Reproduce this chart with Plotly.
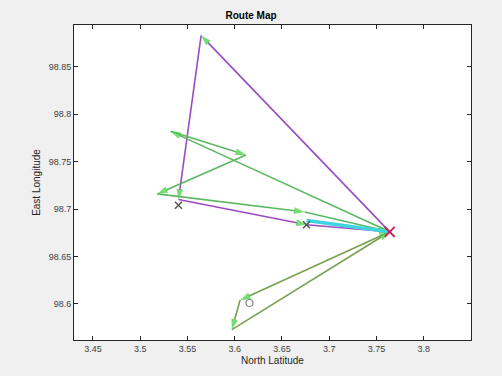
import plotly.graph_objects as go

# Depot and customer coordinates (North Latitude, East Longitude)
route1_lat = [3.764, 3.5645, 3.5405, 3.676, 3.764]
route1_lon = [98.676, 98.883, 98.710, 98.6835, 98.676]

route2_lat = [3.764, 3.532, 3.612, 3.518, 3.674, 3.764]
route2_lon = [98.676, 98.782, 98.757, 98.716, 98.697, 98.676]

route3_lat = [3.764, 3.6057, 3.597, 3.764]
route3_lon = [98.676, 98.604, 98.573, 98.676]

return_lat = [3.676, 3.764]
return_lon = [98.688, 98.676]

depot_lat = [3.764]
depot_lon = [98.676]

xtick_vals = [3.45, 3.5, 3.55, 3.6, 3.65, 3.7, 3.75, 3.8]
xtick_text = ["3.45", "3.5", "3.55", "3.6", "3.65", "3.7", "3.75", "3.8"]
ytick_vals = [98.6, 98.65, 98.7, 98.75, 98.8, 98.85]
ytick_text = ["98.6", "98.65", "98.7", "98.75", "98.8", "98.85"]

fig = go.Figure()


def add_route(lat, lon, color, width=1.6):
    sizes = [0] + [11] * (len(lat) - 1)
    fig.add_trace(go.Scatter(
        x=lat, y=lon, mode="lines+markers",
        line=dict(color=color, width=width),
        marker=dict(symbol="arrow", angleref="previous", size=sizes,
                    color="#3ccf3c", line=dict(width=0)),
        showlegend=False, hoverinfo="x+y",
    ))


add_route(route1_lat, route1_lon, "#9a4cc4")
add_route(route2_lat, route2_lon, "#5cb860")
add_route(route3_lat, route3_lon, "#78a050")
fig.add_trace(go.Scatter(
    x=return_lat, y=return_lon, mode="lines",
    line=dict(color="#3fd4e0", width=3.5),
    showlegend=False,
))

# customer marks on a few stops
fig.add_trace(go.Scatter(
    x=[route1_lat[2], route1_lat[3]], y=[route1_lon[2] - 0.006, route1_lon[3]],
    mode="markers",
    marker=dict(symbol="x-thin-open", size=7, color="#555555", line=dict(width=1.5)),
    showlegend=False,
))
fig.add_trace(go.Scatter(
    x=[route3_lat[1] + 0.01], y=[route3_lon[1] - 0.003], mode="markers",
    marker=dict(symbol="circle-open", size=7, color="#8a8a8a", line=dict(width=1.2)),
    showlegend=False,
))
fig.add_trace(go.Scatter(
    x=depot_lat, y=depot_lon, mode="markers",
    marker=dict(symbol="x-thin-open", size=10, color="#c8205a", line=dict(width=2)),
    showlegend=False,
))

axis_common = dict(
    showline=True, linecolor="#262626", linewidth=1, mirror="ticks",
    ticks="inside", ticklen=4, tickcolor="#262626",
    showgrid=False, zeroline=False,
    tickfont=dict(family="Liberation Sans, Arial, sans-serif", size=9, color="#404040"),
)

fig.update_layout(
    width=502, height=376,
    paper_bgcolor="#f0f0f0", plot_bgcolor="white",
    margin=dict(l=74, r=31, t=25, b=36),
    title=dict(text="<b>Route Map</b>", x=0.5, xanchor="center", y=0.958, yanchor="middle",
               font=dict(family="Liberation Sans, Arial, sans-serif", size=10, color="#000000")),
    xaxis=dict(range=[3.43, 3.85], tickvals=xtick_vals, ticktext=xtick_text,
               title=dict(text="North Latitude", standoff=4,
                          font=dict(family="Liberation Sans, Arial, sans-serif", size=10, color="#262626")),
               **axis_common),
    yaxis=dict(range=[98.562, 98.894], tickvals=ytick_vals, ticktext=ytick_text,
               title=dict(text="East Longitude", standoff=6,
                          font=dict(family="Liberation Sans, Arial, sans-serif", size=10, color="#262626")),
               **axis_common),
)

fig.write_html("out.html")
